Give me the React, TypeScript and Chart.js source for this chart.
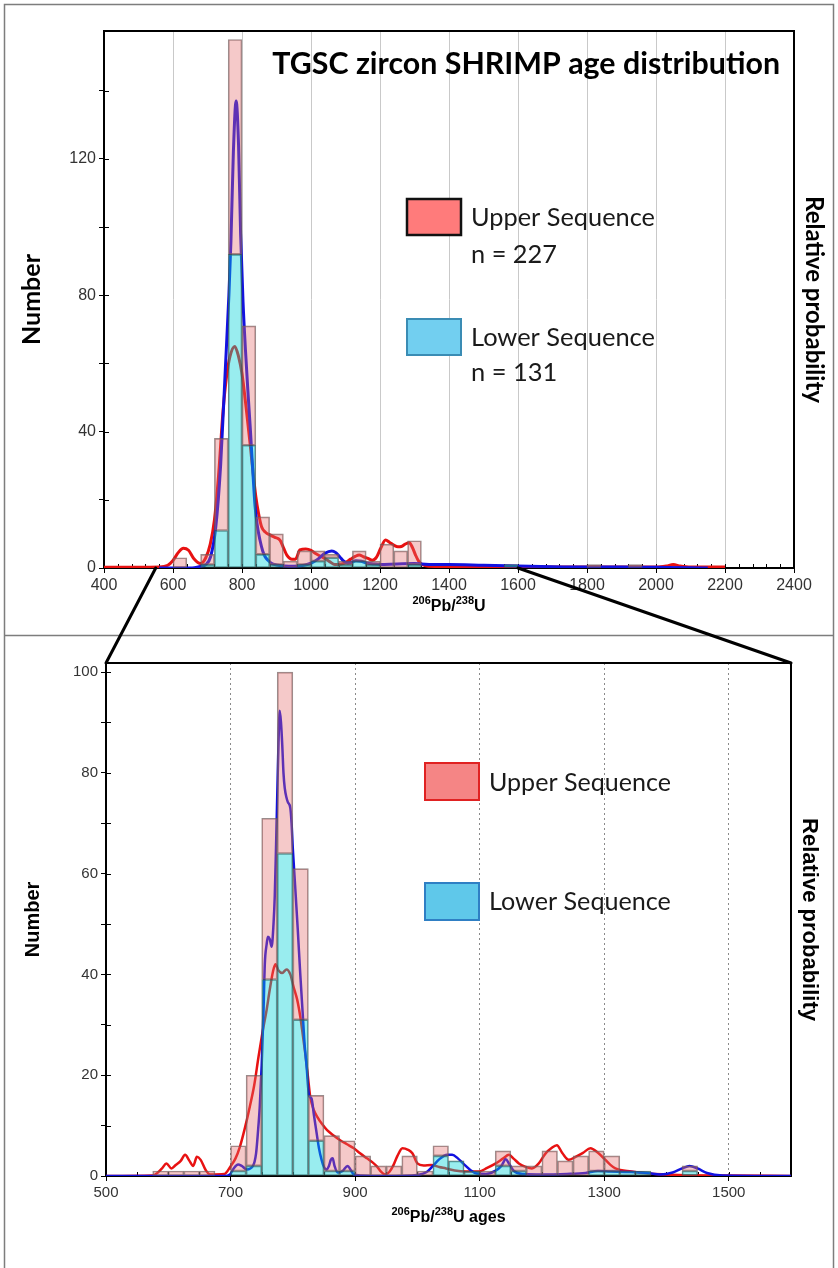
import React, { useEffect, useRef } from "react";
import { Chart, registerables } from "chart.js";

Chart.register(...registerables);

// ---------------- Top panel (full age range) ----------------
const topXTicks = [400, 600, 800, 1000, 1200, 1400, 1600, 1800, 2000, 2200, 2400];
const topYTicks = [0, 20, 40, 60, 80, 100, 120, 140];
const topBinCenters = [620, 700, 740, 780, 820, 860, 900, 940, 980, 1020, 1060, 1100, 1140, 1180, 1220, 1260, 1300, 1580, 1820, 1940];
const topAllCounts = [3, 4, 38, 155, 71, 15, 10, 2, 5, 5, 4, 2, 5, 2, 7, 5, 8, 1, 1, 1];
const topLowerCounts = [0, 1, 11, 92, 36, 4, 1, 0, 1, 2, 3, 1, 2, 1, 0, 0, 1, 1, 0, 0];

const topUpperPdfX = [400, 560, 585, 600, 615, 630, 645, 660, 680, 695, 708, 720, 732, 745, 755, 765, 779, 790, 800, 812, 824, 832, 840, 848, 857, 868, 881, 895, 910, 920, 930, 945, 955, 968, 985, 1000, 1012, 1025, 1040, 1055, 1069, 1085, 1100, 1115, 1128, 1140, 1152, 1165, 1178, 1190, 1202, 1216, 1228, 1240, 1252, 1262, 1273, 1285, 1294, 1303, 1312, 1322, 1340, 1400, 1600, 1800, 2000, 2030, 2050, 2070, 2100, 2200];
const topUpperPdfY = [0.2, 0.3, 0.8, 2.2, 4.5, 5.8, 5.2, 2.8, 1.3, 3, 7, 14, 27, 46, 56, 62, 65, 62, 57, 47, 36, 28, 21, 16, 12, 10.5, 9.7, 9, 8.2, 6, 3.8, 2.6, 2.6, 5.3, 5.6, 5.2, 4.3, 3.6, 2.8, 1.8, 1, 1.1, 1.6, 2.6, 3.4, 3.8, 3.3, 2.8, 2.3, 3.2, 5.8, 8.2, 7.5, 6.7, 6.2, 6.3, 7, 7.4, 6, 3.8, 2, 1, 0.5, 0.4, 0.3, 0.3, 0.3, 0.6, 1, 0.6, 0.3, 0.3];
const topLowerPdfX = [560, 650, 680, 695, 709, 724, 738, 752, 762, 768, 775, 783, 790, 796, 803, 810, 817, 824, 831, 838, 845, 852, 860, 867, 876, 885, 900, 923, 950, 980, 1000, 1020, 1040, 1060, 1072, 1083, 1095, 1105, 1118, 1130, 1145, 1160, 1180, 1200, 1250, 1300, 1320, 1350, 1400, 1500, 1600, 1700, 1800, 1900, 2000, 2100, 2150];
const topLowerPdfY = [0, 0, 0.5, 1, 3.3, 12, 30, 59, 80, 96, 122, 137, 124, 98, 78, 64, 52, 41, 29, 18, 12, 8.2, 5, 3.3, 2.2, 1.4, 0.9, 0.6, 0.5, 0.8, 1.4, 2.6, 4.3, 5, 4.5, 3.3, 2, 1.5, 1.7, 2.1, 2, 1.5, 1.2, 1, 1.2, 1.3, 1.2, 1, 1, 0.8, 0.6, 0.4, 0.3, 0.3, 0.2, 0.1, 0];

// ---------------- Bottom panel (zoomed 500-1600 Ma) ----------------
const zoomWindow = [550, 1600];
const bottomXTicks = [500, 700, 900, 1100, 1300, 1500];
const bottomYTicks = [0, 10, 20, 30, 40, 50, 60, 70, 80, 90, 100];
const bottomBinCenters = [587.5, 612.5, 637.5, 662.5, 712.5, 737.5, 762.5, 787.5, 812.5, 837.5, 862.5, 887.5, 912.5, 937.5, 962.5, 987.5, 1012.5, 1037.5, 1062.5, 1087.5, 1112.5, 1137.5, 1162.5, 1187.5, 1212.5, 1237.5, 1262.5, 1287.5, 1312.5, 1337.5, 1362.5, 1437.5];
const bottomAllCounts = [1, 1, 1, 1, 6, 20, 71, 100, 61, 16, 8, 7, 4, 2, 2, 4, 1, 6, 3, 1, 1, 5, 2, 2, 5, 3, 4, 5, 4, 1, 1, 2];
const bottomLowerCounts = [0, 0, 0, 0, 1, 2, 39, 64, 31, 7, 1, 1, 0, 0, 0, 0, 0, 4, 3, 1, 0, 2, 1, 0, 0, 0, 0, 1, 1, 1, 1, 1];

const bottomUpperPdfX = [500, 575, 590, 597, 605, 612, 620, 627, 634, 640, 646, 652, 660, 667, 690, 700, 708, 715, 723, 731, 738, 745, 752, 758, 763, 768, 772, 777, 783, 790, 796, 801, 807, 812, 816, 820, 824, 828, 834, 839, 847, 855, 866, 876, 887, 898, 908, 919, 928, 935, 942, 948, 955, 961, 968, 976, 985, 992, 1000, 1010, 1022, 1035, 1046, 1060, 1078, 1099, 1112, 1126, 1138, 1147, 1155, 1163, 1174, 1184, 1195, 1206, 1215, 1224, 1233, 1243, 1254, 1266, 1278, 1290, 1302, 1310, 1318, 1344, 1371, 1420, 1500, 1600];
const bottomUpperPdfY = [0, 0.1, 1.5, 2.5, 1.5, 2.2, 3, 4.2, 3, 2, 3.8, 3.2, 1.2, 0.3, 0.4, 1.9, 3.5, 5.8, 9.5, 13.8, 18, 23.7, 29, 33, 37, 40.5, 42, 40.8, 40.3, 41, 40, 37.6, 35, 31.6, 28, 24.3, 20, 15.7, 13, 11.8, 10.3, 9.1, 8, 7.1, 6.3, 5.5, 4.5, 3.5, 2.7, 1.9, 0.8, 0.3, 0.8, 2, 4, 5.5, 5.2, 4.5, 2.5, 2.1, 2.2, 1.8, 1.5, 1.1, 0.9, 0.9, 1.6, 2.5, 3.5, 4.2, 3.4, 2.5, 1.8, 1.5, 2.5, 4.5, 5.5, 6.1, 4.5, 3.2, 3.8, 4.6, 5.5, 4.6, 3.2, 2.2, 1.5, 0.9, 0.5, 0.2, 0.1, 0];
const bottomLowerPdfX = [500, 690, 699, 705, 712, 718, 726, 736, 741, 744, 747, 750, 753, 755, 758, 760, 763, 766, 769, 771, 773, 775, 777, 779, 781, 783, 785, 787, 790, 792, 796, 798, 800, 804, 808, 812, 816, 819, 822, 826, 830, 834, 838, 842, 846, 850, 854, 858, 861, 864, 867, 872, 880, 888, 893, 898, 910, 950, 1000, 1015, 1025, 1035, 1048, 1056, 1065, 1075, 1085, 1095, 1110, 1125, 1135, 1142, 1147, 1155, 1170, 1200, 1240, 1270, 1290, 1310, 1340, 1370, 1390, 1410, 1425, 1437, 1450, 1465, 1490, 1600];
const bottomLowerPdfY = [0, 0, 0.3, 1.5, 2.3, 2, 1.3, 2, 4.5, 8.7, 14, 22, 33, 42, 46, 47.5, 47, 45.5, 50, 55.5, 65, 75.6, 86, 92.3, 90, 85.6, 80, 77, 75, 74.2, 73, 70, 65, 57, 48.8, 40, 32, 26, 22, 16, 15.4, 12, 8.7, 5.5, 3.3, 1.8, 1.3, 2, 3.2, 3.5, 2, 0.7, 1, 2, 1.2, 0.3, 0.1, 0, 0.2, 0.8, 2, 3.3, 4.2, 4.2, 3.5, 2.3, 1.2, 0.5, 0.4, 1, 2, 3.3, 2.5, 1, 0.4, 0.3, 0.4, 0.6, 1, 0.9, 0.8, 0.6, 0.3, 0.7, 1.5, 2, 1.5, 0.6, 0.1, 0];

// ---------------- Texts ----------------
const chartTitle = "TGSC zircon SHRIMP age distribution";
const legendLabels = ["Upper Sequence", "Lower Sequence"];
const legendCounts = ["n = 227", "n = 131"];

const W = 838;
const H = 1268;
const TOP_H = 635;
const BOTTOM_H = H - TOP_H;

const ARIAL = '"Liberation Sans", Arial, sans-serif';
const CALIBRI = 'Lato, "Open Sans", sans-serif';

function fitSize(ctx: CanvasRenderingContext2D, text: string, weight: string, family: string, target: number) {
  ctx.font = `${weight} 100px ${family}`;
  const w = ctx.measureText(text).width;
  return (100 * target) / w;
}

type Part = { t: string; sup?: boolean };

function drawRich(ctx: CanvasRenderingContext2D, parts: Part[], cx: number, cy: number, size: number, family: string) {
  const supSize = Math.round(size * 0.7);
  const widths = parts.map((p) => {
    ctx.font = `bold ${p.sup ? supSize : size}px ${family}`;
    return ctx.measureText(p.t).width;
  });
  const total = widths.reduce((a, b) => a + b, 0);
  let x = cx - total / 2;
  const base = cy + size * 0.36;
  ctx.textAlign = "left";
  ctx.textBaseline = "alphabetic";
  ctx.fillStyle = "#000";
  parts.forEach((p, i) => {
    ctx.font = `bold ${p.sup ? supSize : size}px ${family}`;
    ctx.fillText(p.t, x, p.sup ? base - size * 0.4 : base);
    x += widths[i];
  });
}

const framePlugin = {
  id: "frame",
  beforeDatasetsDraw(chart: any, _a: any, opts: any) {
    const { ctx, chartArea: ca, scales } = chart;
    ctx.save();
    ctx.strokeStyle = "#000";
    ctx.lineWidth = 1;
    ctx.beginPath();
    const xs = scales.x;
    for (let v = opts.xMin; v <= opts.xMax + 1e-6; v += opts.minorStep) {
      const px = Math.round(xs.getPixelForValue(v)) + 0.5;
      ctx.moveTo(px, ca.bottom);
      ctx.lineTo(px, ca.bottom - 4);
    }
    const ys = scales.y;
    for (const t of ys.ticks) {
      const py = Math.round(ys.getPixelForValue(t.value)) + 0.5;
      ctx.moveTo(ca.left, py);
      ctx.lineTo(ca.left + 5, py);
    }
    ctx.stroke();
    ctx.lineWidth = 2;
    ctx.strokeRect(ca.left, ca.top, ca.right - ca.left, ca.bottom - ca.top);
    ctx.restore();
  },
  afterDraw(chart: any, _a: any, opts: any) {
    const { ctx, chartArea: ca } = chart;
    ctx.save();
    drawRich(ctx, opts.xTitle, (ca.left + ca.right) / 2, opts.xTitleY, opts.xTitleSize, ARIAL);
    if (opts.title) {
      const t = opts.title;
      const s = fitSize(ctx, t.text, "bold", CALIBRI, t.width);
      ctx.font = `bold ${s}px ${CALIBRI}`;
      ctx.fillStyle = "#000";
      ctx.textAlign = "right";
      ctx.textBaseline = "middle";
      ctx.fillText(t.text, t.right, t.cy);
    }
    for (const item of opts.legend) {
      const b = item.box;
      ctx.fillStyle = item.fill;
      ctx.fillRect(b[0], b[1], b[2], b[3]);
      ctx.lineWidth = item.lw;
      ctx.strokeStyle = item.stroke;
      ctx.strokeRect(b[0], b[1], b[2], b[3]);
      const s = fitSize(ctx, item.lines[0].text, "normal", CALIBRI, item.textWidth);
      ctx.font = `normal ${s}px ${CALIBRI}`;
      ctx.fillStyle = "#1a1a1a";
      ctx.textAlign = "left";
      ctx.textBaseline = "middle";
      for (const ln of item.lines) ctx.fillText(ln.text, ln.x, ln.cy);
    }
    ctx.restore();
  },
};

function toPts(xs: number[], ys: number[]) {
  return xs.map((x, i) => ({ x, y: ys[i] }));
}

function buildChart(canvas: HTMLCanvasElement, p: any) {
  const lowerBars = p.bins.map((x: number, i: number) => ({ x, y: p.lower[i] }));
  const upperBars = p.bins.map((x: number, i: number) => ({ x, y: p.all[i] - p.lower[i] }));
  return new Chart(canvas, {
    type: "bar",
    data: {
      datasets: [
        {
          type: "bar",
          data: lowerBars,
          backgroundColor: "rgba(0,210,215,0.4)",
          borderColor: "rgba(60,85,85,0.75)",
          borderWidth: 1,
          borderSkipped: false,
          barPercentage: 1,
          categoryPercentage: 1,
          yAxisID: "y",
          order: 1,
        },
        {
          type: "bar",
          data: upperBars,
          backgroundColor: "rgba(228,105,105,0.36)",
          borderColor: "rgba(110,90,90,0.7)",
          borderWidth: 1,
          borderSkipped: false,
          barPercentage: 1,
          categoryPercentage: 1,
          yAxisID: "y",
          order: 1,
        },
        {
          type: "line",
          data: toPts(p.lowerPdfX, p.lowerPdfY),
          borderColor: "#1212e0",
          borderWidth: p.lineWidth,
          pointRadius: 0,
          tension: 0.35,
          cubicInterpolationMode: "monotone",
          fill: false,
          yAxisID: "y2",
          order: 3,
        },
        {
          type: "line",
          data: toPts(p.upperPdfX, p.upperPdfY),
          borderColor: "#e81212",
          borderWidth: p.lineWidth,
          pointRadius: 0,
          tension: 0.35,
          cubicInterpolationMode: "monotone",
          fill: false,
          yAxisID: "y2",
          order: 4,
        },
      ],
    },
    options: {
      animation: false,
      responsive: false,
      maintainAspectRatio: false,
      events: [],
      layout: { padding: { left: 0, right: 0, top: p.padTop, bottom: 0 } },
      plugins: {
        legend: { display: false },
        tooltip: { enabled: false },
        frame: {
          xMin: p.xMin,
          xMax: p.xMax,
          minorStep: p.minorStep,
          xTitle: p.xTitle,
          xTitleY: p.xTitleY,
          xTitleSize: p.xTitleSize,
          title: p.title,
          legend: p.legend,
        },
      } as any,
      scales: {
        x: {
          type: "linear",
          min: p.xMin,
          max: p.xMax,
          stacked: true,
          offset: false,
          afterBuildTicks: (s: any) => {
            s.ticks = p.xTicks.map((v: number) => ({ value: v }));
          },
          afterFit: (s: any) => {
            s.height = p.xHeight;
          },
          ticks: {
            autoSkip: false,
            maxRotation: 0,
            padding: 3,
            color: "#333",
            font: { family: ARIAL, size: p.tickSize },
            callback: (v: any) => String(v),
          },
          grid: {
            offset: false,
            color: (c: any) =>
              c.tick && (c.tick.value === p.xMin || c.tick.value === p.xMax) ? "rgba(0,0,0,0)" : p.gridColor,
            lineWidth: 1,
            tickColor: "#000",
            tickLength: 5,
          },
          border: { display: false, dash: p.gridDash },
        },
        y: {
          type: "linear",
          position: "left",
          min: 0,
          max: p.yMax,
          stacked: true,
          afterBuildTicks: (s: any) => {
            s.ticks = p.yTicks.map((v: number) => ({ value: v }));
          },
          afterFit: (s: any) => {
            s.width = p.yWidth;
          },
          ticks: {
            autoSkip: false,
            padding: 3,
            color: "#333",
            font: { family: ARIAL, size: p.tickSize },
            callback: (v: any) => (Number(v) % p.yLabelStep === 0 ? String(v) : ""),
          },
          grid: { drawOnChartArea: false, tickColor: "#000", tickLength: 5 },
          border: { display: false },
          title: {
            display: true,
            text: "Number",
            color: "#000",
            font: { family: p.titleFamily, size: p.yTitleSize, weight: "bold" },
            padding: { top: p.yTitlePad, bottom: 0 },
          },
        },
        y2: {
          type: "linear",
          position: "right",
          min: 0,
          max: p.yMax,
          afterFit: (s: any) => {
            s.width = p.y2Width;
          },
          ticks: { display: false },
          grid: { display: false },
          border: { display: false },
          title: {
            display: true,
            text: "Relative probability",
            color: "#000",
            font: { family: p.titleFamily, size: p.y2TitleSize, weight: "bold" },
            padding: { top: p.y2TitlePad, bottom: 0 },
          },
        },
      },
    } as any,
    plugins: [framePlugin as any],
  });
}

const topPanel = {
  xMin: 400,
  xMax: 2400,
  yMax: 157.5,
  xTicks: topXTicks,
  yTicks: topYTicks,
  yLabelStep: 40,
  minorStep: 40,
  bins: topBinCenters,
  all: topAllCounts,
  lower: topLowerCounts,
  upperPdfX: topUpperPdfX,
  upperPdfY: topUpperPdfY,
  lowerPdfX: topLowerPdfX,
  lowerPdfY: topLowerPdfY,
  lineWidth: 3,
  padTop: 31,
  yWidth: 104,
  y2Width: 44,
  xHeight: TOP_H - 568,
  tickSize: 16,
  gridColor: "#c9c9c9",
  gridDash: [],
  titleFamily: CALIBRI,
  yTitleSize: 25,
  y2TitleSize: 24,
  yTitlePad: 17,
  y2TitlePad: 10,
  xTitle: [{ t: "206", sup: true }, { t: "Pb/" }, { t: "238", sup: true }, { t: "U" }],
  xTitleY: 605,
  xTitleSize: 16,
  title: { text: chartTitle, right: 780, cy: 64, width: 508 },
  legend: [
    {
      box: [407, 199, 54, 36],
      fill: "#ff7b7b",
      stroke: "#111",
      lw: 2.5,
      textWidth: 184,
      lines: [
        { text: legendLabels[0], x: 471, cy: 218 },
        { text: legendCounts[0], x: 471, cy: 255 },
      ],
    },
    {
      box: [407, 319, 54, 36],
      fill: "#72cff0",
      stroke: "#3a8cb4",
      lw: 2,
      textWidth: 184,
      lines: [
        { text: legendLabels[1], x: 471, cy: 338 },
        { text: legendCounts[1], x: 471, cy: 373 },
      ],
    },
  ],
};

const bottomPanel = {
  xMin: 500,
  xMax: 1600,
  yMax: 101.8,
  xTicks: bottomXTicks,
  yTicks: bottomYTicks,
  yLabelStep: 20,
  minorStep: 50,
  bins: bottomBinCenters,
  all: bottomAllCounts,
  lower: bottomLowerCounts,
  upperPdfX: bottomUpperPdfX,
  upperPdfY: bottomUpperPdfY,
  lowerPdfX: bottomLowerPdfX,
  lowerPdfY: bottomLowerPdfY,
  lineWidth: 2.5,
  padTop: 28,
  yWidth: 106,
  y2Width: 47,
  xHeight: BOTTOM_H - 541,
  tickSize: 15,
  gridColor: "#8a8a8a",
  gridDash: [2, 3],
  titleFamily: ARIAL,
  yTitleSize: 20,
  y2TitleSize: 22,
  yTitlePad: 21,
  y2TitlePad: 16,
  xTitle: [{ t: "206", sup: true }, { t: "Pb/" }, { t: "238", sup: true }, { t: "U ages" }],
  xTitleY: 581,
  xTitleSize: 16,
  title: null,
  legend: [
    {
      box: [425, 128, 54, 37],
      fill: "#f58585",
      stroke: "#e02222",
      lw: 2,
      textWidth: 182,
      lines: [{ text: legendLabels[0], x: 489, cy: 148 }],
    },
    {
      box: [425, 248, 54, 37],
      fill: "#5fc8ea",
      stroke: "#2f7fc4",
      lw: 2,
      textWidth: 182,
      lines: [{ text: legendLabels[1], x: 489, cy: 267 }],
    },
  ],
};

export default function App() {
  const topRef = useRef<HTMLCanvasElement>(null);
  const botRef = useRef<HTMLCanvasElement>(null);
  const overRef = useRef<HTMLCanvasElement>(null);

  useEffect(() => {
    const top = buildChart(topRef.current!, topPanel);
    const bot = buildChart(botRef.current!, bottomPanel);
    const oc = overRef.current!;
    const ctx = oc.getContext("2d")!;
    ctx.clearRect(0, 0, W, H);
    // outer frame and divider
    ctx.strokeStyle = "#7d7d7d";
    ctx.lineWidth = 1.5;
    ctx.strokeRect(4.5, 4.5, W - 9, H + 20);
    ctx.beginPath();
    ctx.moveTo(4, TOP_H + 0.5);
    ctx.lineTo(W - 4, TOP_H + 0.5);
    ctx.stroke();
    // zoom connector lines
    const ta = top.chartArea;
    const ba = bot.chartArea;
    const x0 = top.scales.x.getPixelForValue(zoomWindow[0]);
    const x1 = top.scales.x.getPixelForValue(zoomWindow[1]);
    ctx.strokeStyle = "#000";
    ctx.lineWidth = 3;
    ctx.lineCap = "round";
    ctx.beginPath();
    ctx.moveTo(x0, ta.bottom);
    ctx.lineTo(ba.left, TOP_H + ba.top);
    ctx.moveTo(x1, ta.bottom);
    ctx.lineTo(ba.right, TOP_H + ba.top);
    ctx.stroke();
    return () => {
      top.destroy();
      bot.destroy();
    };
  }, []);

  return (
    <div style={{ position: "absolute", left: 0, top: 0, width: W, height: H, background: "#fff", overflow: "hidden" }}>
      <canvas ref={topRef} width={W} height={TOP_H} style={{ position: "absolute", left: 0, top: 0, width: W, height: TOP_H }} />
      <canvas ref={botRef} width={W} height={BOTTOM_H} style={{ position: "absolute", left: 0, top: TOP_H, width: W, height: BOTTOM_H }} />
      <canvas ref={overRef} width={W} height={H} style={{ position: "absolute", left: 0, top: 0, width: W, height: H, pointerEvents: "none" }} />
    </div>
  );
}
